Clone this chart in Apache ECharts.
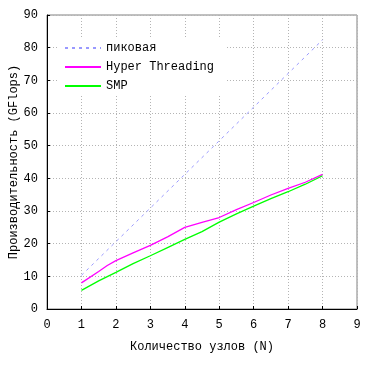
<!DOCTYPE html>
<html><head><meta charset="utf-8">
<script src="https://cdn.jsdelivr.net/npm/echarts@6/dist/echarts.min.js"></script>
<style>html,body{margin:0;padding:0;background:#fff}#c{width:372px;height:366px}</style>
</head><body><div id="c"></div>
<script>
const peakX = [1, 2, 3, 4, 5, 6, 7, 8];
const peakY = [10.3, 20.6, 30.9, 41.2, 51.5, 61.8, 72.1, 82.4];
const htX = [1, 1.5, 1.75, 2, 2.5, 3, 3.5, 4, 4.5, 5, 5.5, 6, 6.5, 7, 7.5, 8];
const htY = [8, 11.5, 13.3, 14.8, 17.2, 19.5, 22.1, 25.0, 26.5, 28.0, 30.4, 32.6, 34.9, 36.9, 38.8, 41.2];
const smpX = [1, 1.5, 2, 2.5, 3, 3.5, 4, 4.5, 5, 5.5, 6, 6.5, 7, 7.5, 8];
const smpY = [5.7, 8.6, 11.2, 13.9, 16.3, 18.8, 21.3, 23.7, 26.6, 29.1, 31.5, 33.8, 35.9, 38.2, 40.8];
const seriesNames = ['пиковая', 'Hyper Threading', 'SMP'];
const xTitle = 'Количество узлов (N)';
const yTitle = 'Производительность (GFlops)';

const pairs = (xs, ys) => xs.map((x, i) => [x, ys[i]]);
const FONT = 'Liberation Mono';
const chart = echarts.init(document.getElementById('c'), null, {renderer: 'canvas'});
chart.setOption({
  animation: false,
  backgroundColor: '#fff',
  grid: {left: 47, right: 15, top: 15, bottom: 57, containLabel: false, outerBoundsMode: 'none',
         show: true, borderColor: '#808080', borderWidth: 1, backgroundColor: 'transparent'},
  legend: {
    left: 59, top: 39, orient: 'vertical',
    backgroundColor: '#fff', padding: [3, 11, 3, 5],
    itemWidth: 36, itemHeight: 14, itemGap: 7,
    itemStyle: {opacity: 0},
    textStyle: {fontFamily: FONT, fontSize: 12, color: '#000'},
    data: seriesNames
  },
  xAxis: {
    type: 'value', min: 0, max: 9, interval: 1,
    name: xTitle, nameLocation: 'middle', nameGap: 32, nameMoveOverlap: false,
    nameTextStyle: {fontFamily: FONT, fontSize: 12, color: '#000'},
    axisLine: {show: true, onZero: false, lineStyle: {color: '#000', width: 1}},
    axisTick: {show: true, inside: true, length: 3, lineStyle: {color: '#000'}},
    axisLabel: {fontFamily: FONT, fontSize: 12, color: '#000', margin: 10},
    splitLine: {show: true, lineStyle: {color: '#b4b4b4', type: [1, 2], width: 1}}
  },
  yAxis: {
    type: 'value', min: 0, max: 90, interval: 10,
    name: yTitle, nameLocation: 'middle', nameGap: 27, nameMoveOverlap: false,
    nameTextStyle: {fontFamily: FONT, fontSize: 12, color: '#000'},
    axisLine: {show: true, onZero: false, lineStyle: {color: '#000', width: 1}},
    axisTick: {show: true, inside: true, length: 3, lineStyle: {color: '#000'}},
    axisLabel: {fontFamily: FONT, fontSize: 12, color: '#000', margin: 9},
    splitLine: {show: true, lineStyle: {color: '#b4b4b4', type: [1, 2], width: 1}}
  },
  series: [
    {name: seriesNames[0], type: 'line', data: pairs(peakX, peakY), symbol: 'none',
     lineStyle: {color: '#9999ff', width: 1, type: [3, 4]}, itemStyle: {color: '#9999ff'}},
    {name: seriesNames[1], type: 'line', data: pairs(htX, htY), symbol: 'none',
     lineStyle: {color: '#ff00ff', width: 1.3}, itemStyle: {color: '#ff00ff'}},
    {name: seriesNames[2], type: 'line', data: pairs(smpX, smpY), symbol: 'none',
     lineStyle: {color: '#00ff00', width: 1.3}, itemStyle: {color: '#00ff00'}}
  ]
});
</script></body></html>
